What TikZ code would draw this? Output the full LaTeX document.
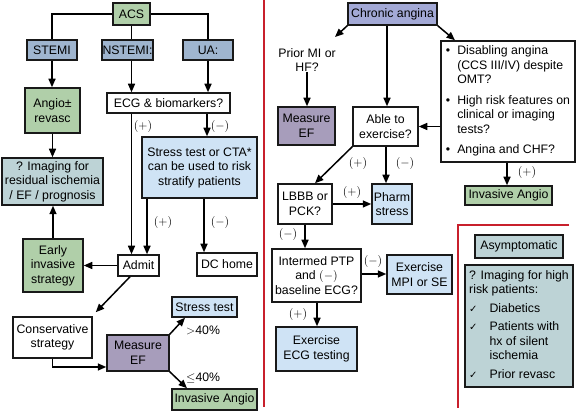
\documentclass[tikz,border=0pt]{standalone}
\usepackage{fontspec}
\setmainfont{Liberation Sans}
\newfontfamily\symfont{DejaVu Sans}
\usetikzlibrary{arrows.meta}
\definecolor{bluebox}{HTML}{9FB5CF}
\definecolor{greenbox}{HTML}{B0CFA9}
\definecolor{lightbox}{HTML}{CFE3F5}
\definecolor{tealbox}{HTML}{BDD3D6}
\definecolor{purplebox}{HTML}{A79DBB}
\definecolor{chronicbox}{HTML}{A3A9D6}
\definecolor{divider}{HTML}{C8202C}
\newcommand\myfs{\fontsize{12.3}{14.5}\selectfont}
\newcommand\chk{{\symfont\fontsize{10}{14.5}\selectfont ✓}}
\begin{document}
\begin{tikzpicture}[x=1pt,y=-1pt,
  box/.style={draw=black!90, line width=1.5pt, inner sep=0pt, align=center, font=\myfs},
  arr/.style={line width=1.5pt, -{Triangle[length=8.5pt,width=7pt]}},
  ln/.style={line width=1.5pt},
  lbl/.style={font=\myfs, inner sep=0pt},
  redl/.style={draw=divider, line width=1.5pt}]
\useasboundingbox (0,0) rectangle (576,411);
% ---------------- left part ----------------
\node[box, fill=greenbox, minimum width=37pt, minimum height=22pt] (acs) at (131.5,14) {ACS};
\node[box, fill=bluebox, minimum width=50pt, minimum height=20pt] (stemi) at (52,50) {STEMI};
\node[box, fill=bluebox, minimum width=51pt, minimum height=20pt] (nstemi) at (127.5,50) {NSTEMI:};
\node[box, fill=bluebox, minimum width=50pt, minimum height=20pt] (ua) at (208,50) {UA:};
\node[box, fill=greenbox, minimum width=55pt, minimum height=45pt] (angio) at (52.5,110.5) {Angio±\\revasc};
\node[box, fill=white, minimum width=123pt, minimum height=20pt] (ecg) at (168.5,103) {ECG \& biomarkers?};
\node[box, fill=lightbox, minimum width=115pt, minimum height=61pt] (stress) at (199.5,167.5) {Stress test or CTA*\\can be used to risk\\stratify patients};
\node[box, fill=tealbox, minimum width=101pt, minimum height=47pt] (imaging) at (52.5,181.5) {? Imaging for\\residual ischemia\\/ EF / prognosis};
\node[box, fill=greenbox, minimum width=60pt, minimum height=53pt] (early) at (53,265.5) {Early\\invasive\\strategy};
\node[box, fill=white, minimum width=41pt, minimum height=21pt] (admit) at (138.5,265.5) {Admit};
\node[box, fill=white, minimum width=60pt, minimum height=23pt] (dc) at (227,264.5) {DC home};
\node[box, fill=white, minimum width=79pt, minimum height=41pt] (cons) at (52.5,337.5) {Conservative\\strategy};
\node[box, fill=purplebox, minimum width=62pt, minimum height=36pt] (measL) at (138,353) {Measure\\EF};
\node[box, fill=lightbox, minimum width=65pt, minimum height=20pt] (sttest) at (204.5,307) {Stress test};
\node[box, fill=greenbox, minimum width=85pt, minimum height=21pt] (invL) at (214.5,399.5) {Invasive Angio};

\draw[ln] (acs.west) -| (stemi.north);
\draw[ln] (acs.east) -| (ua.north);
\draw[ln] (acs.south) -- (acs.south |- nstemi.north);
\draw[arr] (stemi.south) -- (stemi.south |- angio.north);
\draw[arr] (acs.south |- nstemi.south) -- (acs.south |- ecg.north);
\draw[arr] (ua.south) -- (ua.south |- ecg.north);
\draw[arr] (acs.south |- ecg.south) -- (acs.south |- admit.north);
\draw[arr] (207,0 |- ecg.south) -- (207,0 |- stress.north);
\draw[arr] (147,0 |- stress.south) -- (147,0 |- admit.north);
\draw[arr] (204,0 |- stress.south) -- (204,0 |- dc.north);
\draw[arr] (angio.south) -- (angio.south |- imaging.north);
\draw[arr] (early.north) -- (early.north |- imaging.south);
\draw[arr] (admit.west) -- (admit.west -| early.east);
\draw[arr] (130,0 |- admit.south) -- ([shift={(3,-4)}]cons.north east);
\draw[arr] (cons.south) |- (measL.west |- 0,367);
\draw[arr] (measL.north east) -- (185,0 |- sttest.south);
\draw[arr] (measL.south east) -- (187,0 |- invL.north);

\node[lbl] (p1) at (143,127) {$(+)$};
\node[lbl] (m1) at (220,127) {$(-)$};
\node[lbl] (p2) at (163,223) {$(+)$};
\node[lbl] (m2) at (220,223) {$(-)$};
\node[lbl, anchor=west] (gt) at (186,330) {$>$40\%};
\node[lbl, anchor=west] (le) at (186,378) {$\leq$40\%};

% ---------------- dividers ----------------
\draw[redl] (264,0) -- (264,407);
\draw[redl] (569,225) -- (458,225) -- (458,408);

% ---------------- right part ----------------
\node[box, fill=chronicbox, minimum width=89pt, minimum height=22pt] (chronic) at (392.5,14) {Chronic angina};
\node[lbl, align=center] (prior) at (307,60) {Prior MI or\\HF?};
\coordinate (priortop) at (335,37);
\node[box, fill=purplebox, minimum width=57pt, minimum height=38pt] (measR) at (306.5,126) {Measure\\EF};
\node[box, fill=white, minimum width=65pt, minimum height=39pt] (able) at (385.5,126.5) {Able to\\exercise?};
\node[box, fill=white, minimum width=134pt, minimum height=121pt] (bullets) at (508,101.5)
 {\begin{tabular}{@{}l@{\hspace{7pt}}l@{}}
  \textbullet & Disabling angina\\
   & (CCS III/IV) despite\\
   & OMT?\\[6pt]
  \textbullet & High risk features on\\
   & clinical or imaging\\
   & tests?\\[6pt]
  \textbullet & Angina and CHF?
 \end{tabular}};
\node[box, fill=greenbox, minimum width=87pt, minimum height=19pt] (invR) at (508.5,195.5) {Invasive Angio};
\node[box, fill=white, minimum width=54pt, minimum height=40pt] (lbbb) at (305,204) {LBBB or\\PCK?};
\node[box, fill=lightbox, minimum width=40pt, minimum height=40pt] (pharm) at (392,204) {Pharm\\stress};
\node[box, fill=white, minimum width=89pt, minimum height=53pt] (inter) at (316.5,275.5) {Intermed PTP\\and $(-)$\\baseline ECG?};
\node[box, fill=lightbox, minimum width=65pt, minimum height=39pt] (mpi) at (419.5,274.5) {Exercise\\MPI or SE};
\node[box, fill=lightbox, minimum width=81pt, minimum height=44pt] (execg) at (316.5,349) {Exercise\\ECG testing};
\node[box, fill=tealbox, minimum width=88pt, minimum height=23pt] (asym) at (519,246.5) {Asymptomatic};
\node[box, fill=tealbox, minimum width=108pt, minimum height=122pt] (highrisk) at (519,326)
 {\begin{tabular}{@{}l@{\hspace{12pt}}l@{}}
  \multicolumn{2}{@{}l@{}}{? Imaging for high}\\
  \multicolumn{2}{@{}l@{}}{risk patients:}\\[4pt]
  \chk & Diabetics\\[4pt]
  \chk & Patients with\\
   & hx of silent\\
   & ischemia\\[4pt]
  \chk & Prior revasc
 \end{tabular}};

\draw[arr] (chronic.south west) -- (priortop);
\draw[arr] (prior.south) -- (prior.south |- measR.north);
\draw[arr] (387,0 |- chronic.south) -- (387,0 |- able.north);
\draw[arr] (chronic.south east) -- (455,0 |- bullets.north);
\draw[arr] (bullets.west |- able.east) -- (able.east);
\draw[arr] (507,0 |- bullets.south) -- (507,0 |- invR.north);
\draw[arr] (able.south west) -- (315,0 |- lbbb.north);
\draw[arr] (386,0 |- able.south) -- (386,0 |- pharm.north);
\draw[arr] (lbbb.east) -- (pharm.west);
\draw[arr] (305,0 |- lbbb.south) -- (305,0 |- inter.north);
\draw[arr] (inter.east |- 0,274) -- (mpi.west |- 0,274);
\draw[arr] (317,0 |- inter.south) -- (317,0 |- execg.north);

\node[lbl] (p3) at (527,173) {$(+)$};
\node[lbl] (p4) at (358,164) {$(+)$};
\node[lbl] (m3) at (405,164) {$(-)$};
\node[lbl] (p5) at (352,193) {$(+)$};
\node[lbl] (m4) at (288,235) {$(-)$};
\node[lbl] (m5) at (373,262) {$(-)$};
\node[lbl] (p6) at (298,315) {$(+)$};
\end{tikzpicture}
\end{document}
